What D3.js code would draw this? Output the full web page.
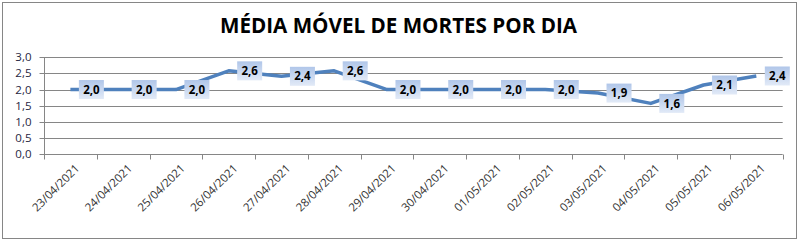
<!DOCTYPE html>
<html>
<head>
<meta charset="UTF-8">
<title>Média móvel de mortes por dia</title>
<script src="https://cdn.jsdelivr.net/npm/d3@7/dist/d3.min.js"></script>
<style>
  body { margin: 0; background: #fff; }
  svg { display: block; }
</style>
</head>
<body>
<script>
// data
var dates = ["23/04/2021","24/04/2021","25/04/2021","26/04/2021","27/04/2021","28/04/2021","29/04/2021",
             "30/04/2021","01/05/2021","02/05/2021","03/05/2021","04/05/2021","05/05/2021","06/05/2021"];
var media = [2.0, 2.0, 2.0, 2.58, 2.41, 2.58, 2.0, 2.0, 2.0, 2.0, 1.89, 1.57, 2.14, 2.42];
var yTicks = [0, 0.5, 1.0, 1.5, 2.0, 2.5, 3.0];
var title = "MÉDIA MÓVEL DE MORTES POR DIA";

var W = 799, H = 241;
// plot area (note: "top" is reserved on window, so use pl/pr/pt/pb)
var pl = 44, pr = 782.7, pt = 57.3, pb = 154;

var svg = d3.select("body").append("svg").attr("width", W).attr("height", H);

// label box gradient
var grad = svg.append("defs").append("linearGradient")
    .attr("id", "lbl").attr("x1", 0).attr("y1", 0).attr("x2", 0).attr("y2", 1);
grad.append("stop").attr("offset", "0%").attr("stop-color", "#b0c6e9");
grad.append("stop").attr("offset", "100%").attr("stop-color", "#e2eaf7");

svg.append("rect")
    .attr("x", 2.5).attr("y", 2.5).attr("width", 794).attr("height", 236)
    .attr("fill", "#fff").attr("stroke", "#868686");

var fmt = function(v) { return d3.format(".1f")(v).replace(".", ","); };

var x = d3.scaleBand().domain(dates).range([pl, pr]);
var y = d3.scaleLinear().domain([0, 3]).range([pb, pt]);

// title
svg.append("text")
    .attr("x", 398.5).attr("y", 33)
    .attr("text-anchor", "middle")
    .attr("font-family", "Open Sans, sans-serif")
    .attr("font-weight", "bold")
    .attr("font-size", 21)
    .attr("fill", "#000")
    .attr("textLength", 357).attr("lengthAdjust", "spacingAndGlyphs")
    .text(title);

// gridlines
svg.append("g").selectAll("line")
    .data(yTicks.filter(function(d) { return d > 0; }))
  .enter().append("line")
    .attr("x1", pl).attr("x2", pr)
    .attr("y1", function(d) { return Math.round(y(d)) + 0.5; })
    .attr("y2", function(d) { return Math.round(y(d)) + 0.5; })
    .attr("stroke", "#868686");

// y axis
var ya = svg.append("g")
    .attr("transform", "translate(" + (pl + 0.5) + ",0)")
    .call(d3.axisLeft(y).tickValues(yTicks).tickSize(5).tickPadding(8).tickFormat(fmt));
ya.select(".domain").attr("stroke", "#868686").attr("d", "M0," + pt + "V" + pb);
ya.selectAll(".tick").attr("transform", function(d) { return "translate(0," + (Math.round(y(d)) + 0.5) + ")"; });
ya.selectAll(".tick line").attr("stroke", "#868686");
ya.selectAll("text")
    .attr("font-family", "Open Sans, sans-serif").attr("font-size", 11.5)
    .attr("fill", "#1f1f3f");

// x axis
var xa = svg.append("g").attr("transform", "translate(0," + (Math.round(pb) + 0.5) + ")");
xa.append("line").attr("x1", pl).attr("x2", pr).attr("stroke", "#868686");
var bounds = dates.map(function(d) { return x(d); }).concat([pr]);
xa.selectAll(".tk").data(bounds).enter().append("line")
    .attr("class", "tk")
    .attr("x1", function(d) { return Math.round(d) + 0.5; })
    .attr("x2", function(d) { return Math.round(d) + 0.5; })
    .attr("y1", 0).attr("y2", 5)
    .attr("stroke", "#868686");
xa.selectAll(".lab").data(dates).enter().append("text")
    .attr("class", "lab")
    .attr("transform", function(d) {
        return "translate(" + (x(d) + x.bandwidth() / 2 + 4) + ",9) rotate(-45)";
    })
    .attr("text-anchor", "end")
    .attr("dy", "0.7em")
    .attr("font-family", "Open Sans, sans-serif")
    .attr("font-size", 11.5)
    .attr("fill", "#333")
    .text(function(d) { return d; });

// line
var line = d3.line()
    .x(function(d, i) { return x(dates[i]) + x.bandwidth() / 2; })
    .y(function(d) { return y(d); });
svg.append("path")
    .datum(media)
    .attr("d", line)
    .attr("fill", "none")
    .attr("stroke", "#4f81bd")
    .attr("stroke-width", 3.5)
    .attr("stroke-linejoin", "round");

// data labels (to the right of each point)
var lg = svg.append("g").selectAll("g")
    .data(media)
  .enter().append("g")
    .attr("transform", function(d, i) {
        return "translate(" + (x(dates[i]) + x.bandwidth() / 2 + 21) + "," + y(d) + ")";
    });
lg.append("rect")
    .attr("x", -12.5).attr("y", -9.5).attr("width", 25).attr("height", 19)
    .attr("fill", "url(#lbl)");
lg.append("text")
    .attr("text-anchor", "middle").attr("dy", "0.36em")
    .attr("font-family", "Open Sans, sans-serif")
    .attr("font-weight", "bold")
    .attr("font-size", 11.5)
    .attr("fill", "#000")
    .text(function(d) { return fmt(d); });
</script>
</body>
</html>
